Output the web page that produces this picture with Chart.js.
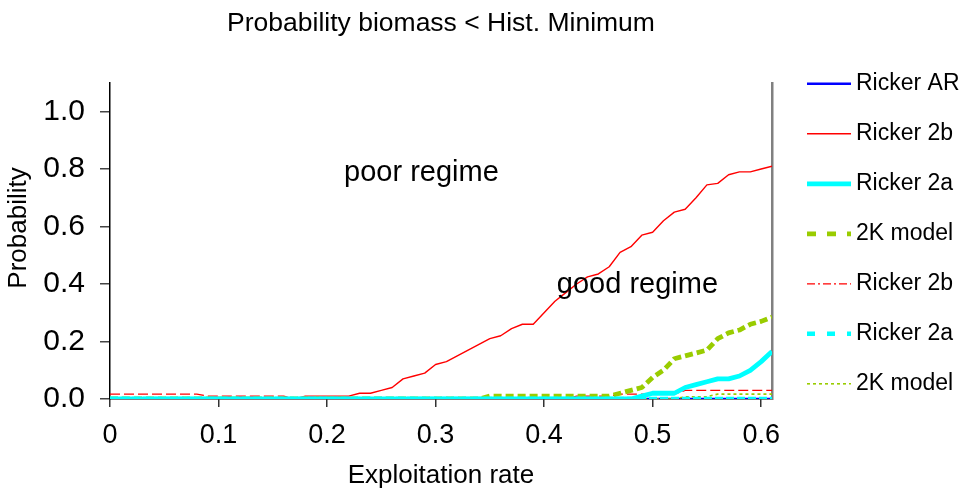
<!DOCTYPE html>
<html>
<head>
<meta charset="utf-8">
<script src="https://cdn.jsdelivr.net/npm/chart.js@4.4.1/dist/chart.umd.min.js"></script>
<style>
  html, body { margin: 0; padding: 0; background: #ffffff; }
  #wrap { width: 966px; height: 492px; }
</style>
</head>
<body>
<div id="wrap"><canvas id="chart" width="966" height="492"></canvas></div>
<script>
// ---------- data ----------
const exploitationRate = [
  0.00, 0.01, 0.02, 0.03, 0.04, 0.05, 0.06, 0.07, 0.08, 0.09,
  0.10, 0.11, 0.12, 0.13, 0.14, 0.15, 0.16, 0.17, 0.18, 0.19,
  0.20, 0.21, 0.22, 0.23, 0.24, 0.25, 0.26, 0.27, 0.28, 0.29,
  0.30, 0.31, 0.32, 0.33, 0.34, 0.35, 0.36, 0.37, 0.38, 0.39,
  0.40, 0.41, 0.42, 0.43, 0.44, 0.45, 0.46, 0.47, 0.48, 0.49,
  0.50, 0.51, 0.52, 0.53, 0.54, 0.55, 0.56, 0.57, 0.58, 0.59,
  0.60, 0.61
];

// poor regime (solid lines)
const rickerAR = [
  0, 0, 0, 0, 0, 0, 0, 0, 0, 0,
  0, 0, 0, 0, 0, 0, 0, 0, 0, 0,
  0, 0, 0, 0, 0, 0, 0, 0, 0, 0,
  0, 0, 0, 0, 0, 0, 0, 0, 0, 0,
  0, 0, 0, 0, 0, 0, 0, 0, 0, 0,
  0, 0, 0, 0, 0, 0, 0, 0, 0, 0,
  0, 0
];
const ricker2b = [
  0, 0, 0, 0, 0, 0, 0, 0, 0, 0,
  0, 0, 0, 0, 0, 0, 0, 0, 0.01, 0.01,
  0.01, 0.01, 0.01, 0.02, 0.02, 0.03, 0.04, 0.07, 0.08, 0.09,
  0.12, 0.13, 0.15, 0.17, 0.19, 0.21, 0.22, 0.245, 0.26, 0.26,
  0.30, 0.34, 0.37, 0.40, 0.425, 0.435, 0.46, 0.51, 0.53, 0.57,
  0.58, 0.62, 0.65, 0.66, 0.70, 0.745, 0.75, 0.78, 0.79, 0.79,
  0.80, 0.81
];
const ricker2a = [
  0, 0, 0, 0, 0, 0, 0, 0, 0, 0,
  0, 0, 0, 0, 0, 0, 0, 0, 0, 0,
  0, 0, 0, 0, 0, 0, 0, 0, 0, 0,
  0, 0, 0, 0, 0, 0, 0, 0, 0, 0,
  0, 0, 0, 0, 0, 0, 0, 0, 0, 0.01,
  0.02, 0.02, 0.02, 0.04, 0.05, 0.06, 0.07, 0.07, 0.08, 0.10,
  0.13, 0.165
];
const model2K = [
  0, 0, 0, 0, 0, 0, 0, 0, 0, 0,
  0, 0, 0, 0, 0, 0, 0, 0, 0, 0,
  0, 0, 0, 0, 0, 0, 0, 0, 0, 0,
  0, 0, 0, 0, 0, 0.01, 0.01, 0.01, 0.01, 0.01,
  0.01, 0.01, 0.01, 0.01, 0.01, 0.01, 0.01, 0.02, 0.03, 0.04,
  0.075, 0.10, 0.14, 0.15, 0.16, 0.17, 0.21, 0.23, 0.24, 0.26,
  0.27, 0.285
];
// good regime (broken lines)
const ricker2bGood = [
  0.017, 0.017, 0.017, 0.017, 0.017, 0.017, 0.017, 0.017, 0.017, 0.01,
  0.01, 0.01, 0.01, 0.01, 0.01, 0.01, 0.01, 0, 0, 0,
  0, 0, 0, 0, 0, 0, 0, 0, 0, 0,
  0, 0, 0, 0, 0, 0, 0, 0, 0, 0,
  0, 0, 0, 0.01, 0.01, 0.01, 0.01, 0.017, 0.017, 0.017,
  0.017, 0.017, 0.017, 0.03, 0.03, 0.03, 0.03, 0.03, 0.03, 0.03,
  0.03, 0.03
];
const ricker2aGood = [
  0, 0, 0, 0, 0, 0, 0, 0, 0, 0,
  0, 0, 0, 0, 0, 0, 0, 0, 0, 0,
  0, 0, 0, 0, 0, 0, 0, 0, 0, 0,
  0, 0, 0, 0, 0, 0, 0, 0, 0, 0,
  0, 0, 0, 0, 0, 0, 0, 0, 0, 0,
  0, 0, 0, 0, 0, 0, 0, 0, 0, 0,
  0, 0
];
const model2KGood = [
  0, 0, 0, 0, 0, 0, 0, 0, 0, 0,
  0, 0, 0, 0, 0, 0, 0, 0, 0, 0,
  0, 0, 0, 0, 0, 0, 0, 0, 0, 0,
  0, 0, 0, 0, 0, 0, 0, 0, 0, 0,
  0, 0, 0, 0, 0, 0, 0, 0, 0, 0,
  0, 0, 0, 0.008, 0.008, 0.008, 0.017, 0.017, 0.017, 0.017,
  0.017, 0.017
];

const seriesLabels = ['Ricker AR', 'Ricker 2b', 'Ricker 2a', '2K model', 'Ricker 2b', 'Ricker 2a', '2K model'];
const xTickLabels = ['0', '0.1', '0.2', '0.3', '0.4', '0.5', '0.6'];
const yTickLabels = ['0.0', '0.2', '0.4', '0.6', '0.8', '1.0'];
const chartTitle = 'Probability biomass < Hist. Minimum';
const xTitle = 'Exploitation rate';
const yTitle = 'Probability';
const annotations = [
  { text: 'poor regime', x: 0.287, y: 0.785 },
  { text: 'good regime', x: 0.486, y: 0.396 }
];

// ---------- chart ----------
const SANS = '"Liberation Sans", Arial, Helvetica, sans-serif';

function pts(arr) { return exploitationRate.map((x, i) => ({ x: x, y: arr[i] })); }

const styles = [
  { color: '#0000ff', width: 2.5, dash: [],      legendDash: [],           order: 6 },
  { color: '#ff0000', width: 1.4, dash: [],      legendDash: [],           order: 4 },
  { color: '#00ffff', width: 4.8, dash: [],      legendDash: [],           order: 0 },
  { color: '#99cc00', width: 4.8, dash: [8, 4],  legendDash: [9, 11],      order: 2 },
  { color: '#ff0000', width: 1.3, dash: [10, 4], legendDash: [8, 3, 2, 3], order: 3 },
  { color: '#00ffff', width: 4.5, dash: [8, 3],  legendDash: [8, 12],      order: 1 },
  { color: '#99cc00', width: 1.6, dash: [3, 3],  legendDash: [3, 3],       order: 5 }
];
const seriesData = [rickerAR, ricker2b, ricker2a, model2K, ricker2bGood, ricker2aGood, model2KGood];

const datasets = seriesData.map((arr, i) => ({
  label: seriesLabels[i],
  data: pts(arr),
  borderColor: styles[i].color,
  backgroundColor: styles[i].color,
  borderWidth: styles[i].width,
  borderDash: styles[i].dash,
  legendDash: styles[i].legendDash,
  order: styles[i].order,
  pointRadius: 0,
  pointHoverRadius: 0,
  tension: 0,
  fill: false,
  borderCapStyle: 'butt',
  borderJoinStyle: 'round'
}));

const extrasPlugin = {
  id: 'extras',
  afterDatasetsDraw(chart) {
    const { ctx, chartArea, scales } = chart;
    ctx.save();
    // regime annotations
    ctx.fillStyle = '#000';
    ctx.font = '29px ' + SANS;
    ctx.textAlign = 'center';
    ctx.textBaseline = 'middle';
    annotations.forEach(a => {
      ctx.fillText(a.text, scales.x.getPixelForValue(a.x), scales.y.getPixelForValue(a.y));
    });
    // y axis title (sits a little above the axis middle in the reference)
    ctx.save();
    ctx.translate(19, scales.y.getPixelForValue(0.595));
    ctx.rotate(-Math.PI / 2);
    ctx.font = '26px ' + SANS;
    ctx.fillText(yTitle, 0, 0);
    ctx.restore();
    // legend
    const lx = chartArea.right + 35;
    const ly = chartArea.top + 1;
    chart.data.datasets.forEach((ds, i) => {
      const y = ly + i * 50;
      ctx.beginPath();
      ctx.strokeStyle = ds.borderColor;
      ctx.lineWidth = ds.borderWidth;
      ctx.lineCap = 'butt';
      ctx.setLineDash(ds.legendDash);
      ctx.moveTo(lx, y);
      ctx.lineTo(lx + 44, y);
      ctx.stroke();
      ctx.setLineDash([]);
      ctx.fillStyle = '#000';
      ctx.font = '23px ' + SANS;
      ctx.textAlign = 'left';
      ctx.textBaseline = 'middle';
      ctx.fillText(ds.label, lx + 49, y);
    });
    ctx.restore();
  }
};

new Chart(document.getElementById('chart'), {
  type: 'line',
  data: { datasets: datasets },
  plugins: [extrasPlugin],
  options: {
    responsive: false,
    animation: false,
    devicePixelRatio: 1,
    layout: { padding: { left: 0, right: 194, top: 0, bottom: 0 } },
    plugins: {
      legend: { display: false },
      tooltip: { enabled: false },
      title: {
        display: true,
        text: chartTitle,
        fullSize: false,
        color: '#000',
        font: { family: SANS, size: 26.5, weight: 'normal' },
        padding: { top: 8, bottom: 43 }
      }
    },
    scales: {
      x: {
        type: 'linear',
        min: 0,
        max: 0.61,
        ticks: {
          stepSize: 0.1,
          includeBounds: false,
          autoSkip: false,
          maxRotation: 0,
          padding: 12,
          color: '#000',
          font: { family: SANS, size: 27 },
          callback: (v, i) => xTickLabels[i]
        },
        grid: { drawOnChartArea: false, drawTicks: true, tickLength: 8, color: '#333', lineWidth: 1.5 },
        border: { display: true, color: '#000', width: 1.5 },
        title: {
          display: true, text: xTitle, color: '#000',
          font: { family: SANS, size: 26 },
          padding: { top: 0, bottom: 1 }
        },
        afterFit: s => { s.height = 93; }
      },
      y: {
        type: 'linear',
        min: 0,
        max: 1.1,
        ticks: {
          stepSize: 0.2,
          includeBounds: false,
          padding: 15,
          color: '#000',
          font: { family: SANS, size: 30 },
          callback: (v, i) => yTickLabels[i]
        },
        grid: { drawOnChartArea: false, drawTicks: true, tickLength: 10, color: '#444', lineWidth: 1.5 },
        border: { display: true, color: '#000', width: 1.5 },
        afterFit: s => { s.width = 110; }
      },
      y2: {
        type: 'linear',
        position: 'right',
        min: 0,
        max: 1.1,
        ticks: { display: false },
        grid: { display: false, drawOnChartArea: false },
        border: { display: true, color: '#808080', width: 2.5 },
        afterFit: s => { s.width = 0; }
      }
    }
  }
});
</script>
</body>
</html>
